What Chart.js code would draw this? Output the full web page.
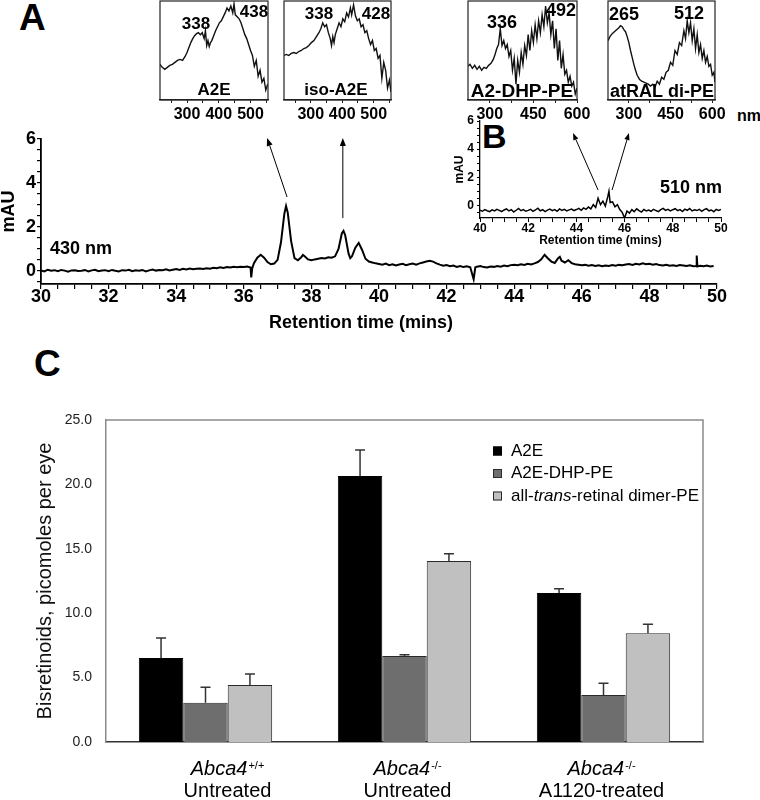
<!DOCTYPE html>
<html>
<head>
<meta charset="utf-8">
<script src="https://cdn.jsdelivr.net/npm/chart.js@4.4.1/dist/chart.umd.min.js"></script>
<style>
html,body{margin:0;padding:0;background:#fff;}
body{width:760px;height:800px;position:relative;overflow:hidden;font-family:'Liberation Sans',Arial,Helvetica,sans-serif;}
canvas{position:absolute;}
.lbl{position:absolute;font-weight:bold;color:#000;line-height:1;white-space:nowrap;}
</style>
</head>
<body>
<div class="lbl" style="left:19px;top:-1px;font-size:37px">A</div>
<div class="lbl" style="left:482px;top:119px;font-size:34px">B</div>
<div class="lbl" style="left:34px;top:345px;font-size:37px">C</div>
<div class="lbl" style="left:737px;top:108px;font-size:16px">nm</div>
<script>
// ---------------- DATA ----------------
// Panel A: chromatogram at 430 nm (retention time in min, absorbance in mAU)
const chromTime = [
  30.0,30.1,30.2,30.3,30.4,30.5,30.6,30.7,30.8,30.9,
  31.0,31.1,31.2,31.3,31.4,31.5,31.6,31.7,31.8,31.9,
  32.0,32.1,32.2,32.3,32.4,32.5,32.6,32.7,32.8,32.9,
  33.0,33.1,33.2,33.3,33.4,33.5,33.6,33.7,33.8,33.9,
  34.0,34.1,34.2,34.3,34.4,34.5,34.6,34.7,34.8,34.9,
  35.0,35.1,35.2,35.3,35.4,35.5,35.6,35.7,35.8,35.9,
  36.0,36.1,36.2,36.22,36.25,36.3,36.4,36.5,36.6,36.7,
  36.8,36.9,37.0,37.1,37.2,37.25,37.3,37.4,37.5,37.6,
  37.7,37.75,37.8,37.9,38.0,38.1,38.2,38.3,38.4,38.5,
  38.6,38.7,38.8,38.9,38.95,39.0,39.1,39.15,39.2,39.3,
  39.4,39.5,39.6,39.7,39.8,39.9,40.0,40.1,40.2,40.3,
  40.4,40.5,40.6,40.7,40.8,40.9,41.0,41.1,41.2,41.3,
  41.4,41.5,41.6,41.7,41.8,41.9,42.0,42.1,42.2,42.3,
  42.4,42.5,42.6,42.7,42.8,42.85,42.9,43.0,43.1,43.2,
  43.3,43.4,43.5,43.6,43.7,43.8,43.9,44.0,44.1,44.2,
  44.3,44.4,44.5,44.6,44.7,44.8,44.9,45.0,45.1,45.2,
  45.3,45.35,45.4,45.5,45.6,45.7,45.8,45.9,46.0,46.1,
  46.2,46.3,46.4,46.5,46.6,46.7,46.8,46.9,47.0,47.1,
  47.2,47.3,47.4,47.5,47.6,47.7,47.8,47.9,48.0,48.1,
  48.2,48.3,48.4,48.5,48.6,48.7,48.8,48.9,49.0,49.1,
  49.2,49.3,49.38,49.4,49.42,49.5,49.6,49.7,49.8,49.9
];
const chromMAU = [
  0.02,-0.03,0.05,0.00,0.03,-0.02,0.04,0.01,-0.04,0.02,
  0.03,-0.01,0.00,0.04,-0.03,0.02,0.05,-0.02,0.01,0.03,
  -0.02,0.04,0.00,-0.03,0.03,0.01,0.05,-0.02,0.02,0.00,
  0.04,-0.03,0.02,0.06,0.01,0.04,0.03,0.07,0.02,0.05,
  0.08,0.04,0.09,0.06,0.10,0.07,0.09,0.11,0.08,0.12,
  0.10,0.14,0.12,0.16,0.13,0.17,0.15,0.18,0.16,0.19,
  0.17,0.20,0.15,-0.30,0.12,0.35,0.60,0.73,0.60,0.40,
  0.30,0.33,0.50,1.30,2.60,2.95,2.65,1.35,0.58,0.48,
  0.62,0.72,0.66,0.52,0.48,0.52,0.55,0.58,0.56,0.62,
  0.60,0.66,0.98,1.70,1.82,1.62,0.78,0.58,0.66,1.05,
  1.27,0.95,0.55,0.42,0.38,0.34,0.31,0.28,0.33,0.26,
  0.30,0.24,0.29,0.32,0.26,0.30,0.33,0.28,0.34,0.38,
  0.42,0.46,0.42,0.34,0.28,0.23,0.26,0.21,0.24,0.18,
  0.22,0.17,0.21,0.16,-0.38,0.16,0.19,0.22,0.17,0.15,
  0.20,0.18,0.22,0.19,0.24,0.21,0.26,0.28,0.25,0.30,
  0.27,0.32,0.29,0.34,0.40,0.52,0.73,0.56,0.42,0.36,
  0.58,0.64,0.46,0.38,0.48,0.35,0.30,0.28,0.25,0.27,
  0.23,0.26,0.22,0.25,0.21,0.24,0.22,0.26,0.23,0.27,
  0.25,0.29,0.31,0.27,0.32,0.29,0.34,0.30,0.32,0.28,
  0.31,0.26,0.24,0.27,0.23,0.25,0.22,0.26,0.24,0.22,
  0.25,0.21,0.22,0.70,0.20,0.23,0.21,0.24,0.20,0.22
];
// Panel B: chromatogram at 510 nm
const insetTime = [
  40.0,40.1,40.2,40.3,40.4,40.5,40.6,40.7,40.8,40.9,
  41.0,41.1,41.2,41.3,41.4,41.5,41.6,41.7,41.8,41.9,
  42.0,42.1,42.2,42.3,42.4,42.5,42.6,42.7,42.8,42.9,
  43.0,43.1,43.2,43.3,43.4,43.5,43.6,43.7,43.8,43.9,
  44.0,44.1,44.2,44.3,44.4,44.5,44.6,44.7,44.8,44.9,
  45.0,45.1,45.2,45.3,45.35,45.4,45.5,45.6,45.7,45.8,
  45.9,46.0,46.1,46.2,46.3,46.4,46.5,46.6,46.7,46.8,
  46.9,47.0,47.1,47.2,47.3,47.4,47.5,47.6,47.7,47.8,
  47.9,48.0,48.1,48.2,48.3,48.4,48.5,48.6,48.7,48.8,
  48.9,49.0,49.1,49.2,49.3,49.4,49.5,49.6,49.7,49.8,
  49.9,50.0
];
const insetMAU = [
  -0.35,-0.42,-0.30,-0.38,-0.45,-0.32,-0.40,-0.28,-0.36,-0.44,
  -0.33,-0.25,-0.40,-0.31,-0.47,-0.35,-0.22,-0.38,-0.30,-0.42,
  -0.36,-0.28,-0.43,-0.33,-0.20,-0.39,-0.31,-0.45,-0.34,-0.27,
  -0.38,-0.30,-0.42,-0.25,-0.36,-0.29,-0.40,-0.32,-0.26,-0.37,
  -0.30,-0.22,-0.35,-0.18,-0.28,-0.12,-0.25,0.05,-0.15,0.50,
  0.05,0.30,-0.05,0.60,1.00,0.20,0.25,-0.10,0.05,-0.30,
  -0.50,-0.90,-0.40,-0.55,-0.30,-0.45,-0.25,-0.38,-0.48,-0.30,
  -0.40,-0.33,-0.42,-0.28,-0.37,-0.45,-0.30,-0.22,-0.36,-0.29,
  -0.40,-0.31,-0.24,-0.38,-0.30,-0.44,-0.27,-0.35,-0.23,-0.40,
  -0.32,-0.37,-0.28,-0.42,-0.30,-0.24,-0.39,-0.33,-0.45,-0.29,
  -0.36,-0.30
];
// UV-vis spectra (wavelength nm, relative absorbance)
const a2eNm  = [215,222,230,238,246,254,262,270,278,286,294,300,306,312,318,324,330,336,342,348,354,358,362,366,370,374,378,384,390,396,402,408,414,420,426,432,438,444,448,452,458,464,470,476,482,488,494,500,506,512,518,524,530,536,542,548,554];
const a2eAbs = [0.36,0.33,0.31,0.33,0.35,0.36,0.38,0.40,0.41,0.40,0.44,0.48,0.53,0.58,0.62,0.65,0.67,0.68,0.66,0.68,0.62,0.70,0.55,0.60,0.54,0.58,0.60,0.65,0.70,0.74,0.78,0.80,0.84,0.88,0.93,0.90,0.95,0.88,0.97,0.86,0.84,0.82,0.78,0.72,0.66,0.62,0.56,0.50,0.45,0.34,0.40,0.24,0.30,0.18,0.22,0.10,0.16];
const isoNm  = [215,222,230,238,246,254,262,270,278,286,294,302,310,318,326,332,338,344,350,356,362,366,370,374,378,384,390,396,402,408,414,420,426,430,436,442,448,454,460,466,472,478,484,490,496,502,508,514,520,526,532,538,544,550,555];
const isoAbs = [0.45,0.46,0.45,0.47,0.48,0.47,0.49,0.50,0.52,0.53,0.55,0.58,0.60,0.64,0.68,0.72,0.78,0.74,0.76,0.68,0.62,0.55,0.64,0.58,0.66,0.72,0.78,0.74,0.82,0.79,0.88,0.84,0.93,0.86,0.96,0.85,0.80,0.82,0.74,0.76,0.68,0.70,0.62,0.56,0.60,0.50,0.52,0.42,0.45,0.22,0.38,0.30,0.12,0.20,0.08];
const dhpNm  = [225,232,240,248,256,264,272,280,288,296,304,312,318,324,330,336,342,348,354,360,366,372,378,384,390,396,402,408,414,420,426,432,438,444,450,456,462,468,474,480,486,492,498,504,510,516,522,528,534,540,546,552,558,564,570,576,582,588,594,600];
const dhpAbs = [0.34,0.36,0.32,0.35,0.31,0.34,0.30,0.33,0.32,0.35,0.37,0.41,0.46,0.52,0.56,0.72,0.55,0.60,0.52,0.56,0.44,0.50,0.30,0.42,0.16,0.40,0.28,0.48,0.36,0.55,0.45,0.66,0.50,0.70,0.58,0.76,0.62,0.80,0.68,0.86,0.74,0.95,0.78,0.88,0.66,0.80,0.52,0.72,0.40,0.60,0.32,0.46,0.26,0.30,0.18,0.24,0.14,0.18,0.06,0.12];
const atralNm  = [225,232,240,248,256,264,270,276,282,288,294,300,306,312,318,324,330,338,346,354,362,370,378,386,394,402,410,418,426,434,442,450,458,466,474,482,490,498,504,510,516,522,528,534,540,546,552,558,564,570,576,582,588,594,600,606,610];
const atralAbs = [0.60,0.64,0.67,0.69,0.71,0.73,0.75,0.74,0.71,0.69,0.64,0.58,0.50,0.43,0.36,0.30,0.25,0.21,0.19,0.18,0.17,0.16,0.14,0.16,0.13,0.19,0.16,0.23,0.21,0.28,0.30,0.38,0.35,0.50,0.46,0.58,0.55,0.70,0.62,0.80,0.68,0.78,0.60,0.72,0.52,0.66,0.48,0.56,0.42,0.50,0.38,0.44,0.34,0.36,0.25,0.28,0.18];

// Panel C: bisretinoids (picomoles per eye), mean and upper error
const genotypes   = ['+/+', '-/-', '-/-'];
const treatments  = ['Untreated', 'Untreated', 'A1120-treated'];
const seriesNames = ['A2E', 'A2E-DHP-PE', 'all-trans-retinal dimer-PE'];
const a2eVals   = [6.52, 20.65, 11.57];
const a2eErr    = [1.55, 2.02, 0.32];
const dhpVals   = [3.04, 6.68, 3.65];
const dhpErr    = [1.22, 0.10, 0.92];
const dimerVals = [4.43, 14.06, 8.45];
const dimerErr  = [0.84, 0.56, 0.70];

// Tick labels
const mainXLabels = [30,32,34,36,38,40,42,44,46,48,50];
const mainYLabels = [0,2,4,6];
const insetXLabels = [40,42,44,46,48,50];
const insetYLabels = [0,2,4,6];
const specLabelsA = [300,400,500];
const specLabelsB = [300,450,600];
const barYTicks = [0,5,10,15,20,25];

// ---------------- RENDER ----------------
const FONT = "'Liberation Sans', Arial, Helvetica, sans-serif";
Chart.defaults.font.family = FONT;
Chart.defaults.color = '#000';

function pageCanvas(left, top, w, h) {
  const c = document.createElement('canvas');
  c.width = w; c.height = h;
  c.style.left = left + 'px'; c.style.top = top + 'px';
  c.style.width = w + 'px'; c.style.height = h + 'px';
  document.body.appendChild(c);
  return c;
}
function stepTicks(a, b, s) { const t = []; for (let v = a; v <= b + 1e-9; v += s) t.push(Math.round(v * 100) / 100); return t; }

function drawArrow(ctx, x1, y1, x2, y2, head, lw) {
  ctx.strokeStyle = '#000'; ctx.fillStyle = '#000'; ctx.lineWidth = lw;
  const ang = Math.atan2(y2 - y1, x2 - x1);
  const bx = x2 - head * Math.cos(ang), by = y2 - head * Math.sin(ang);
  ctx.beginPath(); ctx.moveTo(x1, y1); ctx.lineTo(bx, by); ctx.stroke();
  const hw = head * 0.38;
  ctx.beginPath(); ctx.moveTo(x2, y2);
  ctx.lineTo(bx + hw * Math.sin(ang), by - hw * Math.cos(ang));
  ctx.lineTo(bx - hw * Math.sin(ang), by + hw * Math.cos(ang));
  ctx.closePath(); ctx.fill();
}

const notesPlugin = {
  id: 'notes',
  afterDraw(chart, args, o) {
    if (!o || !o.origin) return;
    const ctx = chart.ctx, ox = o.origin[0], oy = o.origin[1];
    ctx.save();
    (o.arrows || []).forEach(a => {
      const xs = chart.scales.x, ys = chart.scales.y;
      drawArrow(ctx, xs.getPixelForValue(a.from[0]), ys.getPixelForValue(a.from[1]),
        xs.getPixelForValue(a.to[0]), ys.getPixelForValue(a.to[1]), a.head || 8, a.width || 1);
    });
    (o.texts || []).forEach(t => {
      ctx.font = (t.bold === false ? '' : 'bold ') + t.size + 'px ' + FONT;
      ctx.fillStyle = '#000';
      ctx.textAlign = t.align || 'center';
      ctx.textBaseline = 'middle';
      ctx.fillText(t.text, t.x - ox, t.y - oy);
    });
    ctx.restore();
  }
};
const boxPlugin = {
  id: 'box',
  afterDatasetsDraw(chart, args, o) {
    if (!o || !o.show) return;
    const ctx = chart.ctx, a = chart.chartArea;
    ctx.save(); ctx.strokeStyle = o.color || '#222'; ctx.lineWidth = o.width || 1.2;
    ctx.strokeRect(a.left, a.top, a.right - a.left, a.bottom - a.top); ctx.restore();
  }
};
const framePlugin = {
  id: 'frame',
  afterDatasetsDraw(chart, args, o) {
    if (!o || !o.show) return;
    const ctx = chart.ctx, a = chart.chartArea;
    ctx.save(); ctx.strokeStyle = o.color; ctx.lineWidth = o.width;
    ctx.beginPath(); ctx.moveTo(a.left, a.top); ctx.lineTo(a.right, a.top); ctx.lineTo(a.right, a.bottom); ctx.stroke();
    ctx.restore();
  }
};
const errPlugin = {
  id: 'errbars',
  afterDatasetsDraw(chart, args, o) {
    if (!o || !o.errors) return;
    const ctx = chart.ctx, ys = chart.scales.y;
    ctx.save(); ctx.strokeStyle = o.color; ctx.lineWidth = o.width;
    chart.data.datasets.forEach((ds, i) => {
      const meta = chart.getDatasetMeta(i);
      meta.data.forEach((el, j) => {
        const top = ys.getPixelForValue(ds.data[j] + o.errors[i][j]);
        ctx.beginPath();
        ctx.moveTo(el.x, el.y); ctx.lineTo(el.x, top);
        ctx.moveTo(el.x - o.cap, top); ctx.lineTo(el.x + o.cap, top);
        ctx.stroke();
      });
    });
    ctx.restore();
  }
};
const catPlugin = {
  id: 'catLabels',
  afterDraw(chart, args, o) {
    if (!o || !o.items) return;
    const ctx = chart.ctx, xs = chart.scales.x;
    ctx.save(); ctx.fillStyle = '#000'; ctx.textBaseline = 'alphabetic';
    o.items.forEach((it, i) => {
      const cx = xs.getPixelForValue(i) + o.shift[i];
      ctx.font = 'italic ' + o.size + 'px ' + FONT; const w1 = ctx.measureText(it.gene).width;
      ctx.font = o.supSize + 'px ' + FONT; const w2 = ctx.measureText(it.sup).width;
      const x0 = cx - (w1 + w2 + 1) / 2;
      ctx.textAlign = 'left';
      ctx.font = 'italic ' + o.size + 'px ' + FONT; ctx.fillText(it.gene, x0, o.y1);
      ctx.font = o.supSize + 'px ' + FONT; ctx.fillText(it.sup, x0 + w1 + 1, o.y1 - o.size * 0.32);
      ctx.textAlign = 'center';
      ctx.font = o.size + 'px ' + FONT; ctx.fillText(it.line2, cx, o.y2);
    });
    ctx.restore();
  }
};
const legendPlugin = {
  id: 'boxLegend',
  afterDraw(chart, args, o) {
    if (!o || !o.show) return;
    const ctx = chart.ctx;
    ctx.save(); ctx.textBaseline = 'middle'; ctx.textAlign = 'left'; ctx.fillStyle = '#000';
    chart.data.datasets.forEach((ds, i) => {
      const y = o.y + i * o.gap;
      ctx.fillStyle = ds.backgroundColor; ctx.fillRect(o.x, y - o.box / 2, o.box, o.box);
      ctx.strokeStyle = ds.borderColor; ctx.lineWidth = 1; ctx.strokeRect(o.x + 0.5, y - o.box / 2 + 0.5, o.box - 1, o.box - 1);
      let x = o.x + o.textGap;
      ctx.fillStyle = '#000';
      ds.label.split(/(trans)/).forEach(part => {
        if (!part) return;
        ctx.font = (part === 'trans' ? 'italic ' : '') + o.size + 'px ' + FONT;
        ctx.fillText(part, x, y);
        x += ctx.measureText(part).width;
      });
    });
    ctx.restore();
  }
};
Chart.register(notesPlugin, boxPlugin, framePlugin, errPlugin, catPlugin, legendPlugin);

const baseOpts = { responsive: false, animation: false, events: [] };

// ---------- Panel A main chromatogram ----------
new Chart(pageCanvas(0, 120, 760, 220), {
  type: 'line',
  data: { datasets: [{ data: chromTime.map((x, i) => ({ x, y: chromMAU[i] })), borderColor: '#000', borderWidth: 2, pointRadius: 0, tension: 0 }] },
  options: Object.assign({}, baseOpts, {
    layout: { padding: { left: 0, right: 43, top: 19, bottom: 0 } },
    scales: {
      x: { type: 'linear', min: 30, max: 50,
        afterBuildTicks: s => { s.ticks = stepTicks(30, 50, 0.5).map(v => ({ value: v })); },
        afterFit: s => { s.height = 56; },
        ticks: { autoSkip: false, maxRotation: 0, padding: -1, font: { size: 18, weight: 'bold', lineHeight: 1 }, callback: v => mainXLabels.includes(v) ? String(v) : '' },
        grid: { drawOnChartArea: false, tickLength: 5, color: '#000', lineWidth: 1.2 },
        border: { color: '#000', width: 1.8 } },
      y: { min: -0.6, max: 6,
        afterBuildTicks: s => { s.ticks = stepTicks(-0.5, 6, 0.5).map(v => ({ value: v })); },
        afterFit: s => { s.width = 41; },
        ticks: { autoSkip: false, padding: 1, font: { size: 18, weight: 'bold', lineHeight: 1 }, callback: v => mainYLabels.includes(v) ? String(v) : '' },
        grid: { drawOnChartArea: false, tickLength: 4, color: '#000', lineWidth: 1.2 },
        border: { color: '#000', width: 1.8 },
        title: { display: true, text: 'mAU', font: { size: 18, weight: 'bold', lineHeight: 1 }, padding: { top: 0, bottom: 0 } } }
    },
    plugins: { legend: { display: false }, tooltip: { enabled: false },
      notes: { origin: [0, 120],
        arrows: [ { from: [37.28, 3.36], to: [36.69, 6.05] }, { from: [38.93, 2.4], to: [38.93, 6.05] } ],
        texts: [ { text: '430 nm', x: 50, y: 249, size: 18, align: 'left' },
                 { text: 'Retention time (mins)', x: 361, y: 323, size: 18 } ] } }
  })
});

// ---------- Panel B inset chromatogram ----------
new Chart(pageCanvas(440, 110, 300, 140), {
  type: 'line',
  data: { datasets: [{ data: insetTime.map((x, i) => ({ x, y: insetMAU[i] })), borderColor: '#000', borderWidth: 1.5, pointRadius: 0, tension: 0 }] },
  options: Object.assign({}, baseOpts, {
    layout: { padding: { left: 0, right: 19, top: 11, bottom: 0 } },
    scales: {
      x: { type: 'linear', min: 40, max: 50,
        afterBuildTicks: s => { s.ticks = stepTicks(40, 50, 0.5).map(v => ({ value: v })); },
        afterFit: s => { s.height = 32; },
        ticks: { autoSkip: false, maxRotation: 0, padding: 1, font: { size: 12, weight: 'bold', lineHeight: 1 }, callback: v => insetXLabels.includes(v) ? String(v) : '' },
        grid: { drawOnChartArea: false, tickLength: 4, color: '#000', lineWidth: 1 },
        border: { color: '#000', width: 1.3 },
        title: { display: true, text: 'Retention time (mins)', font: { size: 12, weight: 'bold', lineHeight: 1 }, padding: { top: 0, bottom: 3.5 } } },
      y: { min: -0.9, max: 6,
        afterBuildTicks: s => { s.ticks = stepTicks(-0.5, 6, 0.5).map(v => ({ value: v })); },
        afterFit: s => { s.width = 40; },
        ticks: { autoSkip: false, padding: 3, font: { size: 12, weight: 'bold', lineHeight: 1 }, callback: v => insetYLabels.includes(v) ? String(v) : '' },
        grid: { drawOnChartArea: false, tickLength: 3, color: '#000', lineWidth: 1 },
        border: { color: '#000', width: 1.3 },
        title: { display: true, text: 'mAU', font: { size: 12, weight: 'bold', lineHeight: 1 }, padding: { top: 14, bottom: 0 } } }
    },
    plugins: { legend: { display: false }, tooltip: { enabled: false },
      notes: { origin: [440, 110],
        arrows: [ { from: [44.9, 1.09], to: [43.86, 5.14], head: 7 }, { from: [45.48, 1.09], to: [46.18, 5.14], head: 7 } ],
        texts: [ { text: '510 nm', x: 660, y: 188, size: 18, align: 'left' } ] } }
  })
});

// ---------- Spectra insets ----------
function spectrumChart(cfg) {
  new Chart(pageCanvas(cfg.left, cfg.top, cfg.w, cfg.h), {
    type: 'line',
    data: { datasets: [{ data: cfg.nm.map((x, i) => ({ x, y: cfg.abs[i] })), borderColor: '#111', borderWidth: 1.4, pointRadius: 0, tension: 0 }] },
    options: Object.assign({}, baseOpts, {
      layout: { padding: { left: cfg.padL, right: cfg.padR, top: cfg.padT, bottom: 0 } },
      scales: {
        x: { type: 'linear', min: cfg.range[0], max: cfg.range[1],
          afterBuildTicks: s => { s.ticks = cfg.ticks.map(v => ({ value: v })); },
          afterFit: s => { s.height = cfg.axisH; },
          ticks: { autoSkip: false, maxRotation: 0, padding: 3.5, font: { size: 16, weight: 'bold', lineHeight: 1 }, callback: v => cfg.labels.includes(v) ? String(v) : '' },
          grid: { drawOnChartArea: false, tickLength: 3, color: '#222', lineWidth: 1 },
          border: { color: '#222', width: 1.2 } },
        y: { display: false, min: 0, max: 1 }
      },
      plugins: { legend: { display: false }, tooltip: { enabled: false },
        box: { show: true, color: '#222', width: 1.2 },
        notes: { origin: [cfg.left, cfg.top], texts: cfg.texts } }
    })
  });
}
spectrumChart({ left: 150, top: 0, w: 128, h: 125, padL: 10, padR: 10, padT: 1, axisH: 25,
  nm: a2eNm, abs: a2eAbs, range: [215, 555], ticks: [250,300,350,400,450,500,550], labels: specLabelsA,
  texts: [ { text: '338', x: 196, y: 24, size: 17 }, { text: '438', x: 254, y: 12, size: 17 }, { text: 'A2E', x: 214, y: 90, size: 17 } ] });
spectrumChart({ left: 274, top: 0, w: 128, h: 125, padL: 10, padR: 11, padT: 1, axisH: 25,
  nm: isoNm, abs: isoAbs, range: [215, 555], ticks: [250,300,350,400,450,500,550], labels: specLabelsA,
  texts: [ { text: '338', x: 319, y: 14, size: 17 }, { text: '428', x: 376, y: 14, size: 17 }, { text: 'iso-A2E', x: 336, y: 90, size: 17 } ] });
spectrumChart({ left: 455, top: 0, w: 145, h: 125, padL: 13, padR: 23, padT: 1, axisH: 25,
  nm: dhpNm, abs: dhpAbs, range: [225, 600], ticks: [300,375,450,525,600], labels: specLabelsB,
  texts: [ { text: '336', x: 502, y: 23, size: 18 }, { text: '492', x: 561, y: 11, size: 18 }, { text: 'A2-DHP-PE', x: 522, y: 92, size: 19 } ] });
spectrumChart({ left: 596, top: 0, w: 150, h: 125, padL: 12, padR: 31, padT: 1, axisH: 25,
  nm: atralNm, abs: atralAbs, range: [225, 610], ticks: [300,375,450,525,600], labels: specLabelsB,
  texts: [ { text: '265', x: 624, y: 15, size: 18 }, { text: '512', x: 689, y: 14, size: 18 }, { text: 'atRAL di-PE', x: 662, y: 92, size: 18 } ] });

// ---------- Panel C bar chart ----------
new Chart(pageCanvas(0, 380, 760, 420), {
  type: 'bar',
  data: {
    labels: genotypes.map((g, i) => 'Abca4' + g + ' ' + treatments[i]),
    datasets: [
      { label: seriesNames[0], data: a2eVals, backgroundColor: '#000000', borderColor: '#000000', borderWidth: 1 },
      { label: seriesNames[1], data: dhpVals, backgroundColor: '#6e6e6e', borderColor: '#2a2a2a', borderWidth: 1 },
      { label: seriesNames[2], data: dimerVals, backgroundColor: '#c0c0c0', borderColor: '#2a2a2a', borderWidth: 1 }
    ]
  },
  options: Object.assign({}, baseOpts, {
    layout: { padding: { left: 0, right: 57, top: 40, bottom: 58 } },
    datasets: { bar: { categoryPercentage: 0.67, barPercentage: 1 } },
    scales: {
      x: { ticks: { display: false }, grid: { display: false }, border: { color: '#333', width: 1.5 }, afterFit: s => { s.height = 0; } },
      y: { min: 0, max: 25,
        afterBuildTicks: s => { s.ticks = barYTicks.map(v => ({ value: v })); },
        afterFit: s => { s.width = 106; },
        ticks: { padding: 14, font: { size: 14 }, color: '#222', callback: v => Number(v).toFixed(1) },
        grid: { display: false, drawTicks: false },
        border: { color: '#8a8a8a', width: 1.5 },
        title: { display: true, text: 'Bisretinoids, picomoles per eye', color: '#111', font: { size: 20, lineHeight: 1 }, padding: { top: 35, bottom: 0 } } }
    },
    plugins: { legend: { display: false }, tooltip: { enabled: false },
      frame: { show: true, color: '#8a8a8a', width: 1.5 },
      errbars: { errors: [a2eErr, dhpErr, dimerErr], color: '#333', width: 1.5, cap: 5 },
      catLabels: { items: genotypes.map((g, i) => ({ gene: 'Abca4', sup: g, line2: treatments[i] })), shift: [22, 3, -2], size: 20, supSize: 11, y1: 395, y2: 417 },
      boxLegend: { show: true, x: 493, y: 71, gap: 22.5, box: 9, textGap: 18, size: 17 } }
  })
});
</script>
</body>
</html>
